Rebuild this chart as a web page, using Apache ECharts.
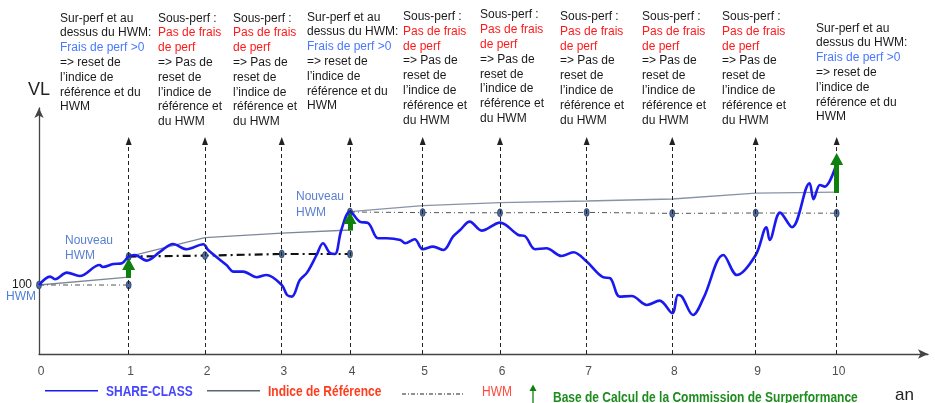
<!DOCTYPE html>
<html>
<head>
<meta charset="utf-8">
<title>Commission de surperformance - HWM</title>
<script src="https://cdn.jsdelivr.net/npm/echarts@6/dist/echarts.min.js"></script>
<style>
  html, body { margin: 0; padding: 0; background: #fff; }
  #chart { width: 935px; height: 403px; }
</style>
</head>
<body>
<div id="chart"></div>
<script>
// positions des années sur l'axe (l'espacement n'est pas régulier sur le schéma)
const yearPos = [0, 1.124, 2.081, 3.043, 3.899, 4.810, 5.779, 6.866, 7.939, 8.985, 10];
const yearLabels = ['0', '1', '2', '3', '4', '5', '6', '7', '8', '9', '10'];

// VL de la share-class (base 100)
const shareClass = [
  [0, 100], [0.14, 104.2], [0.20, 102.9], [0.35, 106.2], [0.51, 104.5], [0.76, 110],
  [0.80, 109], [0.93, 110.5], [1.04, 110.9], [1.124, 114.2], [1.20, 115], [1.35, 112.2],
  [1.52, 116.7], [1.68, 120.5], [1.85, 117.9], [2.06, 120.4], [2.12, 117.5], [2.35, 110],
  [2.44, 106.7], [2.56, 106.7], [2.73, 103.9], [2.85, 105], [3.043, 100], [3.11, 95],
  [3.17, 94.2], [3.27, 102.5], [3.36, 106.2], [3.48, 115], [3.56, 120.9], [3.65, 115.9],
  [3.71, 115.5], [3.79, 127.5], [3.899, 136.7], [4.02, 131.7], [4.13, 130.9], [4.25, 123.4],
  [4.36, 123.4], [4.53, 122.5], [4.59, 120.9], [4.71, 122.9], [4.81, 117.9], [4.94, 119.2],
  [5.07, 117.5], [5.19, 124.2], [5.28, 127.5], [5.40, 131.7], [5.55, 127.2], [5.779, 131.2],
  [6.01, 125], [6.09, 124.5], [6.22, 117.9], [6.36, 118.4], [6.55, 114.5], [6.70, 116.4],
  [6.866, 111.7], [7.07, 103.9], [7.16, 103.4], [7.28, 94.2], [7.43, 94.5], [7.62, 90],
  [7.78, 92.2], [7.939, 85.9], [8.01, 95], [8.06, 94.2], [8.20, 85], [8.33, 93.4],
  [8.58, 115], [8.75, 105], [8.985, 115], [9.12, 128.9], [9.16, 122.5], [9.29, 136.2],
  [9.44, 128.9], [9.66, 150.9], [9.71, 142.9], [9.79, 150], [9.85, 149.2], [10, 161]
];

// indice de référence, remis à zéro aux années 1 et 4
const refSeg1 = [[0, 100], [1.124, 103.9]];
const refSeg2 = [[1.124, 114.2], [2.081, 123.7], [3.043, 125.9], [3.899, 127.5]];
const refSeg3 = [[3.899, 136.7], [4.810, 139.7], [5.779, 141.2], [6.866, 142], [7.939, 143], [8.985, 145.9], [10, 146.4]];

// HWM
const hwmSeg1 = [[0, 100], [1.124, 100]];
const hwmSeg2 = [[1.124, 114.2], [2.081, 114.7], [3.043, 115.5], [3.899, 115.5]];
const hwmSeg3 = [[3.899, 136.5], [4.810, 136.2], [5.779, 136.1], [6.866, 136.3], [7.939, 135.8], [8.985, 136], [10, 135.9]];

// base de calcul de la commission (flèches vertes)
const feeYears = [1, 4, 10];
const feeFrom = [103.5, 127.2, 146];
const feeTo = [110.5, 133.5, 163];

const yMin = 65.5, yMax = 188.5, xMax = 11.145;
const guideTop = 172;

const SUR = 'Sur-perf et au\ndessus du HWM:\n{b|Frais de perf >0}\n=> reset de\nl\u2019indice de\nréférence et du\nHWM';
const SOUS = 'Sous-perf :\n{r|Pas de frais}\n{r|de perf}\n=> Pas de\nreset de\nl\u2019indice de\nréférence et\ndu HWM';
const blockText = [SUR, SOUS, SOUS, SUR, SOUS, SOUS, SOUS, SOUS, SOUS, SUR];
const blockX = [60, 158, 233, 307, 403, 480, 560, 642, 722, 816];
const blockY = [18.3, 18.3, 18.3, 17.3, 16.7, 15, 16.7, 16.7, 16.7, 28.3];

const FONT = 'Liberation Sans, Arial, sans-serif';
const LH = 14.8;

const txt = (x, y, text, o = {}) => ({
  type: 'text', x, y, silent: true,
  scaleY: o.scaleY || 1,
  style: {
    text,
    fill: o.color || '#1a1a1a',
    fontSize: o.size || 12,
    fontFamily: FONT,
    fontWeight: o.weight || 'normal',
    lineHeight: o.lh || LH,
    textAlign: o.align || 'left',
    textVerticalAlign: o.valign || 'middle',
    rich: o.rich
  }
});

const richBlock = {
  b: { fill: '#4a78ff', fontSize: 12, fontFamily: FONT, lineHeight: LH },
  r: { fill: '#ff1a1a', fontSize: 12, fontFamily: FONT, lineHeight: LH }
};

const graphics = [];
blockText.forEach((t, i) => {
  graphics.push(txt(blockX[i], blockY[i] - LH / 2, t, { valign: 'top', rich: richBlock }));
});
graphics.push(
  txt(32, 284.3, '100', { align: 'right' }),
  txt(6, 296.7, 'HWM', { color: '#4f7fd6' }),
  txt(65, 232.5, 'Nouveau\nHWM', { color: '#5b80d0', valign: 'top', lh: 15.7 }),
  txt(296, 189, 'Nouveau\nHWM', { color: '#5b80d0', valign: 'top', lh: 15.7 }),
  txt(895, 395.7, 'an', { size: 17, color: '#222' }),
  // légende
  { type: 'line', silent: true, shape: { x1: 45, y1: 390.7, x2: 98, y2: 390.7 }, style: { stroke: '#1a1af0', lineWidth: 1.5 } },
  txt(106, 392, 'SHARE-CLASS', { color: '#4646ff', weight: 'bold', scaleY: 1.15 }),
  { type: 'line', silent: true, shape: { x1: 207, y1: 390.7, x2: 260, y2: 390.7 }, style: { stroke: '#5a6676', lineWidth: 1.5 } },
  txt(268, 392, 'Indice de Référence', { color: '#ff3c1e', weight: 'bold', scaleY: 1.15 }),
  { type: 'line', silent: true, shape: { x1: 402, y1: 394, x2: 465, y2: 394 }, style: { stroke: '#222', lineWidth: 1, lineDash: [4, 2, 1, 2] } },
  txt(482, 392, 'HWM', { color: '#ff4b3c', scaleY: 1.15 }),
  { type: 'line', silent: true, shape: { x1: 533, y1: 403, x2: 533, y2: 389 }, style: { stroke: '#0d800d', lineWidth: 1.3 } },
  { type: 'polygon', silent: true, shape: { points: [[529.5, 391], [536.5, 391], [533, 384.5]] }, style: { fill: '#0d800d' } },
  txt(553, 397.7, 'Base de Calcul de la Commission de Surperformance', { color: '#1e8c1e', weight: 'bold', scaleY: 1.15 })
);

const dashDot = [5, 3, 1, 3];
const hwmSymbol = {
  showSymbol: true, symbol: 'circle', symbolSize: [5, 8],
  itemStyle: { color: '#4b6b9e', borderColor: '#1f2f4f', borderWidth: 0.6 }
};

const chart = echarts.init(document.getElementById('chart'), null, { renderer: 'canvas' });
chart.setOption({
  animation: false,
  backgroundColor: '#fff',
  grid: { left: 39, right: 7, top: 108, bottom: 49 },
  xAxis: {
    type: 'value', min: 0, max: xMax,
    axisLine: { show: true, symbol: ['none', 'arrow'], symbolSize: [7, 10], lineStyle: { color: '#444', width: 1.3 } },
    axisTick: { show: false }, axisLabel: { show: false }, splitLine: { show: false }
  },
  yAxis: {
    type: 'value', min: yMin, max: yMax,
    name: 'VL', nameLocation: 'end', nameGap: 9,
    nameTextStyle: { fontSize: 18, color: '#222', fontFamily: FONT },
    axisLine: { show: true, symbol: ['none', 'arrow'], symbolSize: [7, 10], lineStyle: { color: '#444', width: 1.3 } },
    axisTick: { show: false }, axisLabel: { show: false }, splitLine: { show: false }
  },
  graphic: graphics,
  series: [
    {
      name: 'guides', type: 'line', data: [], silent: true, z: 1,
      markLine: {
        silent: true, animation: false,
        symbol: ['none', 'triangle'], symbolSize: [6, 8],
        label: { show: false },
        lineStyle: { type: [4, 3], color: '#222', width: 1 },
        emphasis: { disabled: true },
        data: yearPos.slice(1).map(t => [{ coord: [t, yMin] }, { coord: [t, guideTop] }])
      }
    },
    { name: 'Indice de Référence', type: 'line', data: refSeg1, showSymbol: false, z: 2, lineStyle: { color: '#7c889a', width: 1.3 } },
    { name: 'Indice de Référence', type: 'line', data: refSeg2, showSymbol: false, z: 2, lineStyle: { color: '#7c889a', width: 1.3 } },
    { name: 'Indice de Référence', type: 'line', data: refSeg3, showSymbol: false, z: 2, lineStyle: { color: '#8794a6', width: 1.3 } },
    { name: 'HWM', type: 'line', data: hwmSeg1, z: 3, lineStyle: { color: '#555', width: 1, type: dashDot }, ...hwmSymbol },
    { name: 'HWM', type: 'line', data: hwmSeg2, z: 3, lineStyle: { color: '#111', width: 2.2, type: [8, 4, 2, 4] }, ...hwmSymbol },
    { name: 'HWM', type: 'line', data: hwmSeg3, z: 3, lineStyle: { color: '#555', width: 1, type: dashDot }, ...hwmSymbol },
    {
      name: 'SHARE-CLASS', type: 'line', data: shareClass, smooth: 0.35, showSymbol: false, z: 4,
      lineStyle: { color: '#1a1af0', width: 2.6 }
    },
    {
      name: 'Base de Calcul', type: 'line', data: [], silent: true, z: 6,
      markLine: {
        silent: true, animation: false,
        symbol: ['none', 'triangle'], symbolSize: [13, 12],
        label: { show: false },
        lineStyle: { type: 'solid', color: '#0d800d', width: 5 },
        emphasis: { disabled: true },
        data: feeYears.map((y, i) => [{ coord: [yearPos[y], feeFrom[i]] }, { coord: [yearPos[y], feeTo[i]] }])
      }
    },
    {
      name: 'années', type: 'scatter', silent: true, symbolSize: 0, z: 5,
      data: yearPos.map(t => [t, yMin]),
      label: {
        show: true, position: 'bottom', distance: 12, offset: [2, 0],
        fontSize: 12, color: '#222', fontFamily: FONT,
        formatter: p => yearLabels[p.dataIndex]
      }
    }
  ]
});
</script>
</body>
</html>
